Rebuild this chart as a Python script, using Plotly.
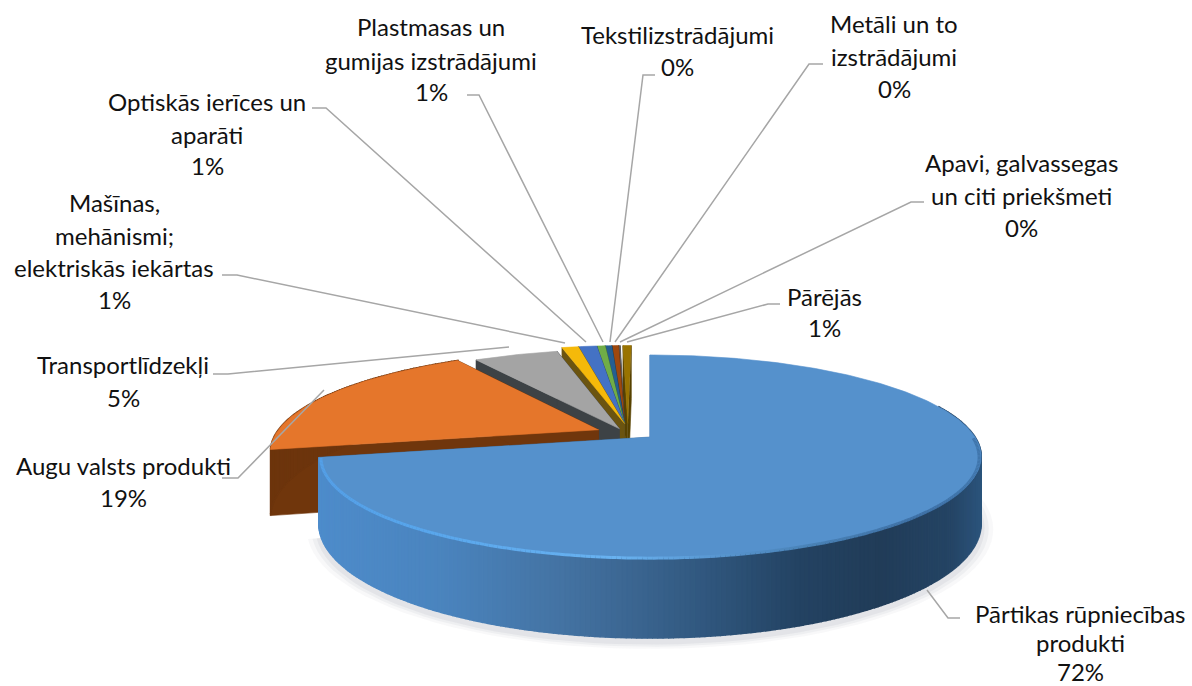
import math
import plotly.graph_objects as go

# ---- data ----
categories = ["Pārtikas rūpniecības produkti", "Augu valsts produkti", "Transportlīdzekļi",
              "Mašīnas, mehānismi; elektriskās iekārtas", "Optiskās ierīces un aparāti",
              "Plastmasas un gumijas izstrādājumi", "Tekstilizstrādājumi", "Metāli un to izstrādājumi",
              "Apavi, galvassegas un citi priekšmeti", "Pārējās"]
values = [71.8, 19.2, 5.0, 1.0, 1.1, 0.5, 0.4, 0.4, 0.1, 0.5]
label_lines = [["Pārtikas rūpniecības", "produkti"], ["Augu valsts produkti"], ["Transportlīdzekļi"],
               ["Mašīnas,", "mehānismi;", "elektriskās iekārtas"], ["Optiskās ierīces un", "aparāti"],
               ["Plastmasas un", "gumijas izstrādājumi"], ["Tekstilizstrādājumi"], ["Metāli un to", "izstrādājumi"],
               ["Apavi, galvassegas", "un citi priekšmeti"], ["Pārējās"]]

# ---- styles ----
top_colors = ["#5591cc", "#e5762b", "#a4a4a4", "#f5b90a", "#4472c4", "#70ad47", "#255e91", "#9e480e", "#636363", "#997300"]
cut_colors = ["#3f74a8", "#70360c", "#3d4245", "#6b5410", "#2c3f70", "#3f6628", "#15354f", "#5a2908", "#383838", "#574200"]
explode_u = [0, -0.16, -0.095, -0.08, -0.08, -0.08, -0.08, -0.08, -0.08, -0.07]
explode_v = [0, -0.0755, -0.085, -0.14, -0.14, -0.14, -0.14, -0.14, -0.14, -0.14]
label_x = [1080, 123, 123, 114, 207, 431, 677, 894, 1021, 824]
label_y = [[613, 642, 671], [465, 497], [364, 397], [202, 235, 267, 299], [101, 134, 165],
           [26, 60, 91], [34, 66], [23, 56, 88], [162, 195, 227], [296, 327]]
leader_x = [[927, 948, 960], [324, 238, 222], [509, 228, 213], [565, 237, 222], [586, 326, 312],
            [603, 479, 467], [610, 643, 655], [615, 809, 823], [620, 911, 924], [627, 768, 780]]
leader_y = [[590, 618, 618], [390, 478, 478], [347, 374, 374], [343, 275, 275], [342, 108, 108],
            [342, 95, 95], [342, 75, 75], [342, 64, 64], [342, 202, 202], [342, 304, 304]]
FONT = "Lato"
FONT_SIZE = 24
CX, CY, A, B, K, H = 650, 437, 325, 97.8, 0.192, 64.6


def project(u, v, drop=0.0):
    w = 1 - K * v
    return CX + A * u / w, CY + (B * v + drop) / w


def rim(theta, slice_i, r=1.0, drop=0.0):
    t = math.radians(theta)
    return project(r * math.sin(t) + explode_u[slice_i], -r * math.cos(t) + explode_v[slice_i], drop)


def mix(stops, x):
    if x <= stops[0][0]:
        return "rgb(%d,%d,%d)" % stops[0][1]
    for (x0, c0), (x1, c1) in zip(stops, stops[1:]):
        if x <= x1:
            f = (x - x0) / (x1 - x0)
            return "rgb(%d,%d,%d)" % tuple(round(a + (b - a) * f) for a, b in zip(c0, c1))
    return "rgb(%d,%d,%d)" % stops[-1][1]


wall_stops = [(318, (78, 140, 203)), (440, (74, 132, 190)), (560, (68, 115, 163)), (640, (58, 100, 143)),
              (720, (46, 84, 122)), (800, (35, 66, 98)), (880, (33, 60, 88)), (950, (36, 68, 100)), (981, (44, 84, 124))]
rim_stops = [(318, (84, 160, 232)), (420, (88, 166, 236)), (620, (105, 178, 240)), (720, (88, 150, 208)),
             (820, (72, 128, 180)), (920, (62, 112, 165)), (981, (64, 118, 172))]

fig = go.Figure()


def poly(xs, ys, color, line=0.6):
    fig.add_trace(go.Scatter(x=xs, y=ys, mode="lines", fill="toself", fillcolor=color,
                             line=dict(color=color, width=line), hoverinfo="skip", showlegend=False))


# angular extents from the values
total = sum(values)
starts, acc = [], 0.0
for val in values:
    starts.append(acc / total * 360)
    acc += val
ends = starts[1:] + [360.0]

# soft shadow below the front of the big slice
for grow, alpha in [(1.035, 0.05), (1.022, 0.07), (1.01, 0.09)]:
    pts = [rim(a, 0, grow, H + 4) for a in range(80, 255, 3)]
    poly([p[0] for p in pts], [p[1] for p in pts], "rgba(120,125,140,%.2f)" % alpha, 0)

# slices back to front
for i in range(len(values) - 1, -1, -1):
    s, e = starts[i], ends[i]
    n = max(2, int((e - s) / 0.75))
    angles = [s + (e - s) * j / n for j in range(n + 1)]
    # cut faces
    for ang in (s, e):
        a0 = rim(ang, i, 0)
        a1 = rim(ang, i, 0, H)
        r0 = rim(ang, i)
        r1 = rim(ang, i, 1, H)
        poly([a0[0], r0[0], r1[0], a1[0]], [a0[1], r0[1], r1[1], a1[1]], cut_colors[i])
    # outer wall, only for the two large slices
    if i in (0, 1):
        for a0, a1 in zip(angles, angles[1:]):
            if i == 0 and (a0 < 70 or a0 > 262):
                continue
            p0, p1, p2, p3 = rim(a0, i), rim(a1, i), rim(a1, i, 1, H), rim(a0, i, 1, H)
            col = mix(wall_stops, (p0[0] + p1[0]) / 2) if i == 0 else "#6d350d"
            poly([p0[0], p1[0], p2[0], p3[0]], [p0[1], p1[1], p2[1], p3[1]], col, 1.6)
    # top face
    pts = [rim(0, i, 0)] + [rim(a, i) for a in angles]
    poly([p[0] for p in pts], [p[1] for p in pts], top_colors[i])
    # bevel highlight on the big slice
    if i == 0:
        arc = [a for a in angles if a >= 90]
        for a0, a1 in zip(arc, arc[1:]):
            p0, p1 = rim(a0, 0, 0.994), rim(a1, 0, 0.994)
            col = mix(rim_stops, p0[0])
            fig.add_trace(go.Scatter(x=[p0[0], p1[0]], y=[p0[1] + 1, p1[1] + 1], mode="lines",
                                     line=dict(color=col, width=3), hoverinfo="skip", showlegend=False))

# leader lines
for lx, ly in zip(leader_x, leader_y):
    fig.add_trace(go.Scatter(x=lx, y=ly, mode="lines", line=dict(color="#a6a6a6", width=1.5),
                             hoverinfo="skip", showlegend=False))

# labels
annotations = []
for i, lines in enumerate(label_lines):
    pct = "%d%%" % math.floor(values[i] / total * 100 + 0.5)
    for text, y in zip(lines + [pct], label_y[i]):
        annotations.append(dict(x=label_x[i], y=y, text=text, showarrow=False, xanchor="center", yanchor="middle",
                                font=dict(family=FONT, size=FONT_SIZE, color="#111111")))

fig.update_layout(width=1192, height=686, margin=dict(l=0, r=0, t=0, b=0), paper_bgcolor="white",
                  plot_bgcolor="white", showlegend=False, annotations=annotations,
                  xaxis=dict(range=[0, 1192], visible=False, fixedrange=True),
                  yaxis=dict(range=[686, 0], visible=False, fixedrange=True))
fig.write_html("out.html", post_script="document.body.style.margin='0';", config={"displayModeBar": False})
